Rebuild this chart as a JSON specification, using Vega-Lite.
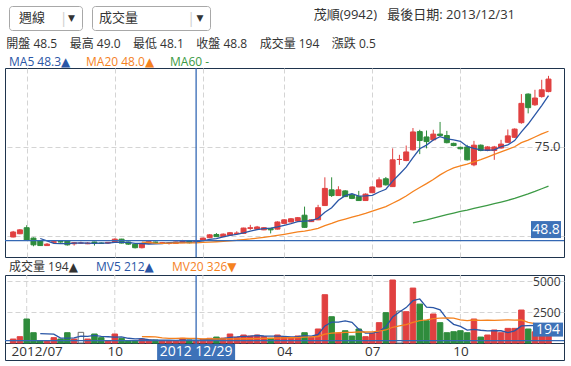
{
  "$schema": "https://vega.github.io/schema/vega-lite/v6.json",
  "padding": {"left": 3, "top": 5, "right": 0, "bottom": 0},
  "background": "white",
  "config": {
    "font": "Open Sans, DejaVu Sans, Noto Sans CJK TC, sans-serif",
    "view": {"stroke": null}
  },
  "datasets": {
    "weekly": [
      {"i":0,"d":"2012-06-23","o":49.8,"h":51.5,"l":49.7,"c":51.2,"v":320,"dir":"up"},
      {"i":1,"d":"2012-06-30","o":50.7,"h":52.0,"l":50.6,"c":51.8,"v":510,"dir":"up"},
      {"i":2,"d":"2012-07-07","o":52.4,"h":53.1,"l":48.8,"c":48.9,"v":1935,"dir":"down"},
      {"i":3,"d":"2012-07-14","o":49.5,"h":49.7,"l":47.2,"c":47.6,"v":830,"dir":"down"},
      {"i":4,"d":"2012-07-21","o":48.7,"h":48.9,"l":47.3,"c":47.4,"v":190,"dir":"down","MA5":49.38,"MV5":757},
      {"i":5,"d":"2012-07-28","o":47.4,"h":48.1,"l":47.3,"c":47.8,"v":190,"dir":"up","MA5":48.70,"MV5":731},
      {"i":6,"d":"2012-08-04","o":48.3,"h":48.7,"l":48.2,"c":48.5,"v":430,"dir":"up","MA5":48.04,"MV5":715},
      {"i":7,"d":"2012-08-11","o":48.5,"h":48.7,"l":48.2,"c":48.4,"v":320,"dir":"down","MA5":47.94,"MV5":392},
      {"i":8,"d":"2012-08-18","o":48.7,"h":48.8,"l":47.4,"c":47.6,"v":830,"dir":"down","MA5":47.94,"MV5":392},
      {"i":9,"d":"2012-08-25","o":47.9,"h":48.4,"l":47.4,"c":48.2,"v":320,"dir":"up","MA5":48.10,"MV5":418},
      {"i":10,"d":"2012-09-01","o":48.1,"h":48.5,"l":47.9,"c":48.1,"v":860,"dir":"flat","MA5":48.16,"MV5":552},
      {"i":11,"d":"2012-09-08","o":47.9,"h":48.4,"l":47.8,"c":48.1,"v":320,"dir":"up","MA5":48.08,"MV5":530},
      {"i":12,"d":"2012-09-15","o":48.4,"h":48.5,"l":47.4,"c":48.0,"v":725,"dir":"down","MA5":48.00,"MV5":611},
      {"i":13,"d":"2012-09-22","o":48.1,"h":48.3,"l":47.9,"c":48.0,"v":430,"dir":"down","MA5":48.08,"MV5":531},
      {"i":14,"d":"2012-09-29","o":48.1,"h":48.4,"l":47.9,"c":48.3,"v":190,"dir":"up","MA5":48.10,"MV5":505},
      {"i":15,"d":"2012-10-06","o":48.3,"h":49.4,"l":48.2,"c":49.2,"v":725,"dir":"up","MA5":48.32,"MV5":478},
      {"i":16,"d":"2012-10-13","o":49.2,"h":49.3,"l":48.0,"c":48.1,"v":375,"dir":"down","MA5":48.32,"MV5":489},
      {"i":17,"d":"2012-10-20","o":48.4,"h":48.5,"l":47.6,"c":47.8,"v":190,"dir":"down","MA5":48.28,"MV5":382},
      {"i":18,"d":"2012-10-27","o":47.8,"h":47.9,"l":46.6,"c":46.8,"v":190,"dir":"down","MA5":48.04,"MV5":334},
      {"i":19,"d":"2012-11-03","o":46.8,"h":48.2,"l":46.6,"c":48.0,"v":320,"dir":"up","MA5":47.98,"MA20":48.39,"MV5":360,"MV20":510},
      {"i":20,"d":"2012-11-10","o":48.0,"h":48.6,"l":47.9,"c":48.5,"v":240,"dir":"up","MA5":47.84,"MA20":48.26,"MV5":263,"MV20":506},
      {"i":21,"d":"2012-11-17","o":48.4,"h":48.5,"l":48.0,"c":48.2,"v":240,"dir":"down","MA5":47.86,"MA20":48.08,"MV5":236,"MV20":493},
      {"i":22,"d":"2012-11-24","o":48.1,"h":48.4,"l":47.9,"c":48.2,"v":190,"dir":"up","MA5":47.94,"MA20":48.04,"MV5":236,"MV20":405},
      {"i":23,"d":"2012-12-01","o":48.0,"h":48.3,"l":47.7,"c":48.1,"v":190,"dir":"up","MA5":48.20,"MA20":48.07,"MV5":236,"MV20":373},
      {"i":24,"d":"2012-12-08","o":48.0,"h":48.5,"l":47.9,"c":48.4,"v":190,"dir":"up","MA5":48.28,"MA20":48.12,"MV5":210,"MV20":373},
      {"i":25,"d":"2012-12-15","o":48.2,"h":49.0,"l":48.1,"c":48.8,"v":375,"dir":"up","MA5":48.34,"MA20":48.17,"MV5":237,"MV20":383},
      {"i":26,"d":"2012-12-22","o":48.7,"h":48.8,"l":48.0,"c":48.2,"v":240,"dir":"down","MA5":48.34,"MA20":48.15,"MV5":237,"MV20":373},
      {"i":27,"d":"2012-12-29","o":48.5,"h":49.0,"l":48.1,"c":48.8,"v":194,"dir":"up","MA5":48.46,"MA20":48.17,"MV5":238,"MV20":367},
      {"i":28,"d":"2013-01-05","o":48.9,"h":49.6,"l":48.8,"c":49.5,"v":300,"dir":"up","MA5":48.74,"MA20":48.27,"MV5":260,"MV20":340},
      {"i":29,"d":"2013-01-12","o":49.6,"h":50.6,"l":49.5,"c":50.4,"v":380,"dir":"up","MA5":49.14,"MA20":48.38,"MV5":298,"MV20":343},
      {"i":30,"d":"2013-01-19","o":50.5,"h":50.9,"l":49.8,"c":49.9,"v":480,"dir":"down","MA5":49.36,"MA20":48.47,"MV5":319,"MV20":324},
      {"i":31,"d":"2013-01-26","o":49.9,"h":50.8,"l":49.8,"c":50.6,"v":400,"dir":"up","MA5":49.84,"MA20":48.59,"MV5":351,"MV20":328},
      {"i":32,"d":"2013-02-02","o":50.3,"h":51.2,"l":50.2,"c":51.0,"v":725,"dir":"up","MA5":50.28,"MA20":48.74,"MV5":457,"MV20":328},
      {"i":33,"d":"2013-02-08","o":50.8,"h":51.4,"l":50.6,"c":50.9,"v":450,"dir":"up","MA5":50.56,"MA20":48.89,"MV5":487,"MV20":329},
      {"i":34,"d":"2013-02-23","o":50.8,"h":52.4,"l":50.7,"c":52.3,"v":645,"dir":"up","MA5":50.94,"MA20":49.09,"MV5":540,"MV20":352},
      {"i":35,"d":"2013-03-02","o":52.2,"h":53.2,"l":51.8,"c":52.4,"v":565,"dir":"up","MA5":51.44,"MA20":49.25,"MV5":557,"MV20":344},
      {"i":36,"d":"2013-03-09","o":52.0,"h":52.9,"l":51.9,"c":52.6,"v":645,"dir":"up","MA5":51.84,"MA20":49.47,"MV5":606,"MV20":357},
      {"i":37,"d":"2013-03-16","o":51.8,"h":52.6,"l":51.7,"c":52.4,"v":510,"dir":"up","MA5":52.12,"MA20":49.70,"MV5":563,"MV20":373},
      {"i":38,"d":"2013-03-23","o":52.2,"h":52.3,"l":50.8,"c":51.8,"v":380,"dir":"down","MA5":52.30,"MA20":49.95,"MV5":549,"MV20":383},
      {"i":39,"d":"2013-03-30","o":52.0,"h":54.2,"l":51.9,"c":54.0,"v":645,"dir":"up","MA5":52.64,"MA20":50.25,"MV5":549,"MV20":399},
      {"i":40,"d":"2013-04-06","o":53.6,"h":54.8,"l":53.5,"c":54.6,"v":500,"dir":"up","MA5":53.08,"MA20":50.56,"MV5":536,"MV20":412},
      {"i":41,"d":"2013-04-13","o":54.0,"h":55.1,"l":53.9,"c":54.9,"v":450,"dir":"up","MA5":53.54,"MA20":50.89,"MV5":497,"MV20":423},
      {"i":42,"d":"2013-04-20","o":54.3,"h":55.4,"l":54.2,"c":55.2,"v":565,"dir":"up","MA5":54.10,"MA20":51.24,"MV5":508,"MV20":441},
      {"i":43,"d":"2013-04-27","o":55.9,"h":58.3,"l":52.4,"c":52.5,"v":830,"dir":"down","MA5":54.24,"MA20":51.46,"MV5":598,"MV20":473},
      {"i":44,"d":"2013-05-04","o":54.1,"h":54.8,"l":54.0,"c":54.6,"v":460,"dir":"up","MA5":54.36,"MA20":51.77,"MV5":561,"MV20":487},
      {"i":45,"d":"2013-05-11","o":54.6,"h":58.8,"l":54.5,"c":58.0,"v":1130,"dir":"up","MA5":55.04,"MA20":52.23,"MV5":687,"MV20":525},
      {"i":46,"d":"2013-05-18","o":58.6,"h":66.5,"l":58.5,"c":63.4,"v":3895,"dir":"up","MA5":56.74,"MA20":52.99,"MV5":1376,"MV20":707},
      {"i":47,"d":"2013-05-25","o":63.0,"h":66.5,"l":61.0,"c":61.4,"v":2120,"dir":"down","MA5":57.98,"MA20":53.62,"MV5":1687,"MV20":804},
      {"i":48,"d":"2013-06-01","o":61.4,"h":64.0,"l":61.3,"c":63.0,"v":780,"dir":"up","MA5":60.08,"MA20":54.30,"MV5":1677,"MV20":828},
      {"i":49,"d":"2013-06-08","o":62.7,"h":62.9,"l":61.0,"c":61.1,"v":990,"dir":"down","MA5":61.38,"MA20":54.83,"MV5":1783,"MV20":858},
      {"i":50,"d":"2013-06-15","o":61.6,"h":61.9,"l":60.4,"c":60.6,"v":565,"dir":"down","MA5":61.90,"MA20":55.37,"MV5":1670,"MV20":863},
      {"i":51,"d":"2013-06-22","o":61.1,"h":62.7,"l":59.9,"c":60.0,"v":1130,"dir":"down","MA5":61.22,"MA20":55.84,"MV5":1117,"MV20":899},
      {"i":52,"d":"2013-06-29","o":60.0,"h":62.0,"l":59.9,"c":61.8,"v":510,"dir":"up","MA5":61.30,"MA20":56.38,"MV5":795,"MV20":888},
      {"i":53,"d":"2013-07-06","o":62.2,"h":64.0,"l":62.1,"c":63.8,"v":780,"dir":"up","MA5":61.46,"MA20":57.02,"MV5":795,"MV20":905},
      {"i":54,"d":"2013-07-13","o":63.8,"h":66.5,"l":63.7,"c":65.8,"v":1640,"dir":"up","MA5":62.40,"MA20":57.70,"MV5":925,"MV20":955},
      {"i":55,"d":"2013-07-20","o":66.1,"h":66.6,"l":64.2,"c":64.4,"v":2445,"dir":"down","MA5":63.16,"MA20":58.30,"MV5":1301,"MV20":1049},
      {"i":56,"d":"2013-07-27","o":63.9,"h":74.6,"l":63.8,"c":71.4,"v":5080,"dir":"up","MA5":65.44,"MA20":59.24,"MV5":2091,"MV20":1270},
      {"i":57,"d":"2013-08-03","o":71.5,"h":72.8,"l":70.0,"c":71.5,"v":2580,"dir":"flat","MA5":67.38,"MA20":60.19,"MV5":2505,"MV20":1374},
      {"i":58,"d":"2013-08-10","o":71.2,"h":75.4,"l":71.0,"c":73.6,"v":2525,"dir":"up","MA5":69.34,"MA20":61.28,"MV5":2854,"MV20":1481},
      {"i":59,"d":"2013-08-17","o":74.2,"h":80.3,"l":74.0,"c":79.2,"v":4430,"dir":"up","MA5":72.02,"MA20":62.54,"MA60":53.73,"MV5":3412,"MV20":1670},
      {"i":60,"d":"2013-08-24","o":79.3,"h":79.8,"l":73.0,"c":76.8,"v":3140,"dir":"down","MA5":74.50,"MA20":63.65,"MA60":54.15,"MV5":3551,"MV20":1802},
      {"i":61,"d":"2013-08-31","o":77.8,"h":79.6,"l":74.6,"c":76.5,"v":1800,"dir":"down","MA5":75.52,"MA20":64.73,"MA60":54.56,"MV5":2895,"MV20":1870},
      {"i":62,"d":"2013-09-07","o":77.0,"h":79.8,"l":76.8,"c":78.6,"v":2340,"dir":"up","MA5":76.94,"MA20":65.90,"MA60":55.06,"MV5":2847,"MV20":1959},
      {"i":63,"d":"2013-09-14","o":78.6,"h":82.0,"l":78.0,"c":78.2,"v":1640,"dir":"down","MA5":77.86,"MA20":67.19,"MA60":55.57,"MV5":2670,"MV20":1999},
      {"i":64,"d":"2013-09-21","o":78.2,"h":79.5,"l":76.0,"c":76.2,"v":830,"dir":"down","MA5":77.26,"MA20":68.27,"MA60":56.05,"MV5":1950,"MV20":2018},
      {"i":65,"d":"2013-09-28","o":76.0,"h":76.2,"l":75.2,"c":75.4,"v":910,"dir":"down","MA5":76.98,"MA20":69.14,"MA60":56.51,"MV5":1504,"MV20":2007},
      {"i":66,"d":"2013-10-05","o":74.9,"h":75.1,"l":74.3,"c":74.5,"v":990,"dir":"down","MA5":76.58,"MA20":69.69,"MA60":56.94,"MV5":1342,"MV20":1861},
      {"i":67,"d":"2013-10-12","o":75.0,"h":75.6,"l":71.2,"c":71.4,"v":830,"dir":"down","MA5":75.14,"MA20":70.19,"MA60":57.33,"MV5":1040,"MV20":1797},
      {"i":68,"d":"2013-10-19","o":70.0,"h":76.7,"l":69.6,"c":75.5,"v":1935,"dir":"up","MA5":74.60,"MA20":70.82,"MA60":57.79,"MV5":1099,"MV20":1855},
      {"i":69,"d":"2013-10-26","o":75.5,"h":75.7,"l":73.8,"c":74.0,"v":480,"dir":"down","MA5":74.16,"MA20":71.46,"MA60":58.22,"MV5":1029,"MV20":1829},
      {"i":70,"d":"2013-11-02","o":74.0,"h":75.2,"l":73.8,"c":75.0,"v":645,"dir":"up","MA5":74.08,"MA20":72.18,"MA60":58.67,"MV5":976,"MV20":1833},
      {"i":71,"d":"2013-11-09","o":74.0,"h":75.3,"l":71.4,"c":75.0,"v":1050,"dir":"up","MA5":74.18,"MA20":72.93,"MA60":59.12,"MV5":988,"MV20":1829},
      {"i":72,"d":"2013-11-16","o":74.7,"h":77.0,"l":74.5,"c":75.8,"v":830,"dir":"up","MA5":75.06,"MA20":73.63,"MA60":59.58,"MV5":988,"MV20":1845},
      {"i":73,"d":"2013-11-23","o":76.3,"h":79.9,"l":76.1,"c":78.1,"v":1180,"dir":"up","MA5":75.58,"MA20":74.35,"MA60":60.08,"MV5":837,"MV20":1865},
      {"i":74,"d":"2013-11-30","o":77.7,"h":80.2,"l":77.5,"c":80.0,"v":1180,"dir":"up","MA5":76.78,"MA20":75.06,"MA60":60.61,"MV5":977,"MV20":1842},
      {"i":75,"d":"2013-12-07","o":81.8,"h":89.8,"l":81.5,"c":87.2,"v":2660,"dir":"up","MA5":79.22,"MA20":76.20,"MA60":61.25,"MV5":1380,"MV20":1853},
      {"i":76,"d":"2013-12-14","o":89.8,"h":90.0,"l":84.4,"c":86.0,"v":1130,"dir":"down","MA5":81.42,"MA20":76.93,"MA60":61.88,"MV5":1396,"MV20":1655},
      {"i":77,"d":"2013-12-21","o":86.8,"h":91.0,"l":86.5,"c":88.7,"v":900,"dir":"up","MA5":84.00,"MA20":77.79,"MA60":62.56,"MV5":1410,"MV20":1571},
      {"i":78,"d":"2013-12-28","o":89.1,"h":93.8,"l":88.8,"c":91.0,"v":1000,"dir":"up","MA5":86.58,"MA20":78.66,"MA60":63.30,"MV5":1374,"MV20":1495},
      {"i":79,"d":"2013-12-31","o":90.5,"h":94.9,"l":90.3,"c":94.0,"v":800,"dir":"up","MA5":89.38,"MA20":79.40,"MA60":64.06,"MV5":1298,"MV20":1314}
    ],
    "cross": [{"i":27,"date":"2012 12/29","close":48.8,"vol":194,"closeText":"48.8","volText":"194"}],
    "months": [{"i":2,"m":"2012/07"},{"i":15,"m":"10"},{"i":28,"m":"01"},{"i":40,"m":"04"},{"i":53,"m":"07"},{"i":66,"m":"10"}]
  },
  "spacing": 6,
  "resolve": {"scale": {"x": "independent", "y": "independent", "color": "independent", "fill": "independent", "stroke": "independent"}},
  "vconcat": [
    {
      "spacing": 2,
      "hconcat": [
        {
          "width": 1, "height": 24,
          "data": {"values": [{"t": ""}]},
          "mark": {"type": "text"},
          "encoding": {"text": {"field": "t"}}
        },
        {
          "spacing": 8,
          "hconcat": [
            {
              "width": 73, "height": 24,
              "view": {"stroke": "#a8a8a8", "cornerRadius": 3, "strokeWidth": 1},
              "data": {"values": [{"t": "週線", "arrow": "▼", "sep": "|"}]},
              "layer": [
                {"mark": {"type": "text", "align": "left", "dx": -26.5, "fontSize": 13, "color": "#333"}, "encoding": {"text": {"field": "t"}}},
                {"mark": {"type": "text", "dx": 18, "fontSize": 15, "color": "#cfcfcf"}, "encoding": {"text": {"field": "sep"}}},
                {"mark": {"type": "text", "dx": 26, "fontSize": 9, "color": "#333"}, "encoding": {"text": {"field": "arrow"}}}
              ]
            },
            {
              "width": 118, "height": 24,
              "view": {"stroke": "#a8a8a8", "cornerRadius": 3, "strokeWidth": 1},
              "data": {"values": [{"t": "成交量", "arrow": "▼", "sep": "|"}]},
              "layer": [
                {"mark": {"type": "text", "align": "left", "dx": -52, "fontSize": 13, "color": "#333"}, "encoding": {"text": {"field": "t"}}},
                {"mark": {"type": "text", "dx": 40, "fontSize": 15, "color": "#cfcfcf"}, "encoding": {"text": {"field": "sep"}}},
                {"mark": {"type": "text", "dx": 49, "fontSize": 9, "color": "#333"}, "encoding": {"text": {"field": "arrow"}}}
              ]
            }
          ]
        },
        {
          "width": 302, "height": 24,
          "data": {"values": [{"t": "茂順(9942)\u00a0\u00a0\u00a0最後日期: 2013/12/31"}]},
          "mark": {"type": "text", "align": "right", "dx": 151, "dy": -3, "fontSize": 13, "color": "#333"},
          "encoding": {"text": {"field": "t"}}
        }
      ]
    },
    {
      "spacing": 1,
      "resolve": {"scale": {"x": "independent", "y": "independent", "color": "independent", "fill": "independent", "stroke": "independent"}},
      "vconcat": [
        {
          "width": 559, "height": 189,
          "view": {"stroke": "#1f344d", "strokeWidth": 1},
          "title": {"text": "開盤 48.5\u00a0\u00a0\u00a0\u00a0最高 49.0\u00a0\u00a0\u00a0\u00a0最低 48.1\u00a0\u00a0\u00a0\u00a0收盤 48.8\u00a0\u00a0\u00a0\u00a0成交量 194\u00a0\u00a0\u00a0\u00a0漲跌 0.5", "anchor": "start", "fontSize": 12, "fontWeight": "normal", "color": "#333", "offset": 5, "dx": 2},
          "layer": [
            {
              "data": {"name": "weekly"},
              "mark": {"type": "rule", "strokeWidth": 1},
              "encoding": {
                "x": {"field": "i", "type": "quantitative", "scale": {"domain": [-0.464, 80.55], "nice": false, "zero": false},
                      "axis": {"values": [2, 15, 28, 40, 53, 66], "grid": true, "gridColor": "#d4d4d4", "gridDash": [5, 3], "labels": false, "ticks": false, "domain": false, "title": null}},
                "y": {"field": "l", "type": "quantitative", "scale": {"domain": [44.2, 97.1], "nice": false, "zero": false},
                      "axis": {"orient": "right", "values": [50, 75], "grid": true, "gridColor": "#d4d4d4", "gridDash": [5, 3], "ticks": false, "domain": false, "labelAlign": "right", "labelPadding": -4, "labelFontSize": 13, "labelColor": "#3a3a3a", "labelExpr": "datum.value == 75 ? '75.0' : ''", "title": null}},
                "y2": {"field": "h"},
                "stroke": {"field": "dir", "type": "nominal", "scale": {"domain": ["up", "down", "flat"], "range": ["#e04040", "#2f8c3c", "#e04040"]}, "legend": null}
              }
            },
            {
              "data": {"name": "weekly"},
              "mark": {"type": "bar", "width": 5, "strokeWidth": 1},
              "encoding": {
                "x": {"field": "i", "type": "quantitative",
                      "axis": {"values": [2, 15, 28, 40, 53, 66], "grid": true, "gridColor": "#d4d4d4", "gridDash": [5, 3], "labels": false, "ticks": false, "domain": false, "title": null}},
                "y": {"field": "o", "type": "quantitative",
                      "axis": {"orient": "right", "values": [50, 75], "grid": true, "gridColor": "#d4d4d4", "gridDash": [5, 3], "ticks": false, "domain": false, "labelAlign": "right", "labelPadding": -4, "labelFontSize": 13, "labelColor": "#3a3a3a", "labelExpr": "datum.value == 75 ? '75.0' : ''", "title": null}},
                "y2": {"field": "c"},
                "fill": {"field": "dir", "type": "nominal", "scale": {"domain": ["up", "down", "flat"], "range": ["#e04040", "#2f8c3c", "#e04040"]}, "legend": null},
                "stroke": {"field": "dir", "type": "nominal", "legend": null}
              }
            },
            {
              "data": {"name": "weekly"},
              "transform": [{"fold": ["MA5", "MA20", "MA60"], "as": ["key", "val"]}, {"filter": "isValid(datum.val)"}],
              "mark": {"type": "line", "strokeWidth": 1.3},
              "encoding": {
                "x": {"field": "i", "type": "quantitative",
                      "axis": {"values": [2, 15, 28, 40, 53, 66], "grid": true, "gridColor": "#d4d4d4", "gridDash": [5, 3], "labels": false, "ticks": false, "domain": false, "title": null}},
                "y": {"field": "val", "type": "quantitative",
                      "axis": {"orient": "right", "values": [50, 75], "grid": true, "gridColor": "#d4d4d4", "gridDash": [5, 3], "ticks": false, "domain": false, "labelAlign": "right", "labelPadding": -4, "labelFontSize": 13, "labelColor": "#3a3a3a", "labelExpr": "datum.value == 75 ? '75.0' : ''", "title": null}},
                "color": {"field": "key", "type": "nominal", "scale": {"domain": ["MA5", "MA20", "MA60"], "range": ["#2a56a6", "#f5821f", "#3c9a45"]},
                  "legend": {"orient": "top", "direction": "horizontal", "title": null, "offset": 0, "padding": 0, "symbolSize": 0.0001, "symbolStrokeWidth": 0.0001, "symbolOpacity": 0, "labelOffset": -8, "columnPadding": 11, "labelFontSize": 12,
                    "labelExpr": "datum.value == 'MA5' ? 'MA5 48.3▲' : datum.value == 'MA20' ? 'MA20 48.0▲' : 'MA60 -'",
                    "encode": {"labels": {"update": {"fill": {"signal": "datum.value == 'MA5' ? '#2a56a6' : datum.value == 'MA20' ? '#f5821f' : '#3c9a45'"}}}}}}
              }
            },
            {
              "data": {"name": "cross"},
              "mark": {"type": "rule", "color": "#3468b4", "strokeWidth": 1.3},
              "encoding": {"y": {"field": "close", "type": "quantitative",
                      "axis": {"orient": "right", "values": [50, 75], "grid": true, "gridColor": "#d4d4d4", "gridDash": [5, 3], "ticks": false, "domain": false, "labelAlign": "right", "labelPadding": -4, "labelFontSize": 13, "labelColor": "#3a3a3a", "labelExpr": "datum.value == 75 ? '75.0' : ''", "title": null}}}
            },
            {
              "data": {"name": "cross"},
              "mark": {"type": "rule", "color": "#3468b4", "strokeWidth": 1.3},
              "encoding": {"x": {"field": "i", "type": "quantitative",
                      "axis": {"values": [2, 15, 28, 40, 53, 66], "grid": true, "gridColor": "#d4d4d4", "gridDash": [5, 3], "labels": false, "ticks": false, "domain": false, "title": null}}}
            },
            {
              "data": {"name": "cross"},
              "mark": {"type": "point", "shape": "M-1,-0.567H1V0.567H-1Z", "size": 900, "filled": true, "color": "#3d72b8", "opacity": 1, "strokeWidth": 0, "xOffset": -18, "yOffset": -11},
              "encoding": {"x": {"value": "width"}, "y": {"field": "close", "type": "quantitative",
                      "axis": {"orient": "right", "values": [50, 75], "grid": true, "gridColor": "#d4d4d4", "gridDash": [5, 3], "ticks": false, "domain": false, "labelAlign": "right", "labelPadding": -4, "labelFontSize": 13, "labelColor": "#3a3a3a", "labelExpr": "datum.value == 75 ? '75.0' : ''", "title": null}}}
            },
            {
              "data": {"name": "cross"},
              "mark": {"type": "text", "color": "white", "fontSize": 14, "xOffset": -18, "yOffset": -11},
              "encoding": {"x": {"value": "width"}, "y": {"field": "close", "type": "quantitative",
                      "axis": {"orient": "right", "values": [50, 75], "grid": true, "gridColor": "#d4d4d4", "gridDash": [5, 3], "ticks": false, "domain": false, "labelAlign": "right", "labelPadding": -4, "labelFontSize": 13, "labelColor": "#3a3a3a", "labelExpr": "datum.value == 75 ? '75.0' : ''", "title": null}}, "text": {"field": "closeText"}}
            }
          ]
        },
        {
          "width": 559, "height": 85,
          "view": {"stroke": "#1f344d", "strokeWidth": 1},
          "layer": [
            {
              "data": {"name": "months"},
              "mark": {"type": "rule", "color": "#d4d4d4", "strokeDash": [5, 3]},
              "encoding": {
                "x": {"field": "i", "type": "quantitative", "scale": {"domain": [-0.464, 80.55], "nice": false, "zero": false},
                      "axis": {"orient": "bottom", "offset": -17, "values": [2, 15, 28, 40, 53, 66], "grid": false, "ticks": false, "domain": true, "domainColor": "#1f344d", "labelFontSize": 13.5, "labelColor": "#333", "labelPadding": 1, "labelFlush": false, "labelOffset": {"condition": {"test": "datum.value == 2", "value": 10}, "value": 0}, "title": null,
                        "labelExpr": "datum.value == 2 ? '2012/07' : datum.value == 15 ? '10' : datum.value == 28 ? '' : datum.value == 40 ? '04' : datum.value == 53 ? '07' : '10'"}},
                "y": {"datum": 0, "type": "quantitative", "scale": {"domain": [-1371, 5484], "nice": false, "zero": false},
                      "axis": {"orient": "right", "values": [2500, 5000], "format": "d", "grid": true, "gridColor": "#d4d4d4", "gridDash": [5, 3], "ticks": false, "domain": false, "labelAlign": "right", "labelPadding": -4, "labelFontSize": 12, "labelColor": "#3a3a3a", "title": null}},
                "y2": {"datum": 5484}
              }
            },
            {
              "data": {"name": "weekly"},
              "mark": {"type": "bar", "width": 5.5, "strokeWidth": 1},
              "encoding": {
                "x": {"field": "i", "type": "quantitative",
                      "axis": {"orient": "bottom", "offset": -17, "values": [2, 15, 28, 40, 53, 66], "grid": false, "ticks": false, "domain": true, "domainColor": "#1f344d", "labelFontSize": 13.5, "labelColor": "#333", "labelPadding": 1, "labelFlush": false, "labelOffset": {"condition": {"test": "datum.value == 2", "value": 10}, "value": 0}, "title": null,
                        "labelExpr": "datum.value == 2 ? '2012/07' : datum.value == 15 ? '10' : datum.value == 28 ? '' : datum.value == 40 ? '04' : datum.value == 53 ? '07' : '10'"}},
                "y": {"field": "v", "type": "quantitative",
                      "axis": {"orient": "right", "values": [2500, 5000], "format": "d", "grid": true, "gridColor": "#d4d4d4", "gridDash": [5, 3], "ticks": false, "domain": false, "labelAlign": "right", "labelPadding": -4, "labelFontSize": 12, "labelColor": "#3a3a3a", "title": null}},
                "y2": {"datum": 0},
                "fill": {"field": "dir", "type": "nominal", "scale": {"domain": ["up", "down", "flat"], "range": ["#e04040", "#2f8c3c", "#ffffff"]}, "legend": null},
                "stroke": {"field": "dir", "type": "nominal", "scale": {"domain": ["up", "down", "flat"], "range": ["#e04040", "#2f8c3c", "#6a6a6a"]}, "legend": null}
              }
            },
            {
              "data": {"name": "weekly"},
              "transform": [{"fold": ["MV5", "MV20"], "as": ["key", "val"]}, {"filter": "isValid(datum.val)"}],
              "mark": {"type": "line", "strokeWidth": 1.3},
              "encoding": {
                "x": {"field": "i", "type": "quantitative",
                      "axis": {"orient": "bottom", "offset": -17, "values": [2, 15, 28, 40, 53, 66], "grid": false, "ticks": false, "domain": true, "domainColor": "#1f344d", "labelFontSize": 13.5, "labelColor": "#333", "labelPadding": 1, "labelFlush": false, "labelOffset": {"condition": {"test": "datum.value == 2", "value": 10}, "value": 0}, "title": null,
                        "labelExpr": "datum.value == 2 ? '2012/07' : datum.value == 15 ? '10' : datum.value == 28 ? '' : datum.value == 40 ? '04' : datum.value == 53 ? '07' : '10'"}},
                "y": {"field": "val", "type": "quantitative",
                      "axis": {"orient": "right", "values": [2500, 5000], "format": "d", "grid": true, "gridColor": "#d4d4d4", "gridDash": [5, 3], "ticks": false, "domain": false, "labelAlign": "right", "labelPadding": -4, "labelFontSize": 12, "labelColor": "#3a3a3a", "title": null}},
                "color": {"field": "key", "type": "nominal", "scale": {"domain": ["VOL", "MV5", "MV20"], "range": ["#333333", "#2a56a6", "#f5821f"]},
                  "legend": {"orient": "top", "direction": "horizontal", "title": null, "offset": 2, "padding": 0, "symbolSize": 0.0001, "symbolStrokeWidth": 0.0001, "symbolOpacity": 0, "labelOffset": -8, "columnPadding": 14, "labelFontSize": 12,
                    "labelExpr": "datum.value == 'VOL' ? '成交量 194▲' : datum.value == 'MV5' ? 'MV5 212▲' : 'MV20 326▼'",
                    "encode": {"labels": {"update": {"fill": {"signal": "datum.value == 'VOL' ? '#333333' : datum.value == 'MV5' ? '#2a56a6' : '#f5821f'"}}}}}}
              }
            },
            {
              "data": {"name": "cross"},
              "mark": {"type": "rule", "color": "#3468b4", "strokeWidth": 1.3},
              "encoding": {"y": {"field": "vol", "type": "quantitative",
                      "axis": {"orient": "right", "values": [2500, 5000], "format": "d", "grid": true, "gridColor": "#d4d4d4", "gridDash": [5, 3], "ticks": false, "domain": false, "labelAlign": "right", "labelPadding": -4, "labelFontSize": 12, "labelColor": "#3a3a3a", "title": null}}}
            },
            {
              "data": {"name": "cross"},
              "mark": {"type": "rule", "color": "#3468b4", "strokeWidth": 1.3},
              "encoding": {"x": {"field": "i", "type": "quantitative",
                      "axis": {"orient": "bottom", "offset": -17, "values": [2, 15, 28, 40, 53, 66], "grid": false, "ticks": false, "domain": true, "domainColor": "#1f344d", "labelFontSize": 13.5, "labelColor": "#333", "labelPadding": 1, "labelFlush": false, "labelOffset": {"condition": {"test": "datum.value == 2", "value": 10}, "value": 0}, "title": null,
                        "labelExpr": "datum.value == 2 ? '2012/07' : datum.value == 15 ? '10' : datum.value == 28 ? '' : datum.value == 40 ? '04' : datum.value == 53 ? '07' : '10'"}}}
            },
            {
              "data": {"name": "cross"},
              "mark": {"type": "point", "shape": "M-1,-0.467H1V0.467H-1Z", "size": 900, "filled": true, "color": "#3d72b8", "opacity": 1, "strokeWidth": 0, "xOffset": -16, "yOffset": -11},
              "encoding": {"x": {"value": "width"}, "y": {"field": "vol", "type": "quantitative",
                      "axis": {"orient": "right", "values": [2500, 5000], "format": "d", "grid": true, "gridColor": "#d4d4d4", "gridDash": [5, 3], "ticks": false, "domain": false, "labelAlign": "right", "labelPadding": -4, "labelFontSize": 12, "labelColor": "#3a3a3a", "title": null}}}
            },
            {
              "data": {"name": "cross"},
              "mark": {"type": "text", "color": "white", "fontSize": 14, "xOffset": -16, "yOffset": -11},
              "encoding": {"x": {"value": "width"}, "y": {"field": "vol", "type": "quantitative",
                      "axis": {"orient": "right", "values": [2500, 5000], "format": "d", "grid": true, "gridColor": "#d4d4d4", "gridDash": [5, 3], "ticks": false, "domain": false, "labelAlign": "right", "labelPadding": -4, "labelFontSize": 12, "labelColor": "#3a3a3a", "title": null}}, "text": {"field": "volText"}}
            },
            {
              "data": {"name": "cross"},
              "mark": {"type": "point", "shape": "M-1,-0.205H1V0.205H-1Z", "size": 6084, "filled": true, "color": "#3d72b8", "opacity": 1, "strokeWidth": 0, "yOffset": -8},
              "encoding": {"x": {"field": "i", "type": "quantitative",
                      "axis": {"orient": "bottom", "offset": -17, "values": [2, 15, 28, 40, 53, 66], "grid": false, "ticks": false, "domain": true, "domainColor": "#1f344d", "labelFontSize": 13.5, "labelColor": "#333", "labelPadding": 1, "labelFlush": false, "labelOffset": {"condition": {"test": "datum.value == 2", "value": 10}, "value": 0}, "title": null,
                        "labelExpr": "datum.value == 2 ? '2012/07' : datum.value == 15 ? '10' : datum.value == 28 ? '' : datum.value == 40 ? '04' : datum.value == 53 ? '07' : '10'"}}, "y": {"value": "height"}}
            },
            {
              "data": {"name": "cross"},
              "mark": {"type": "text", "color": "white", "fontSize": 14, "yOffset": -8},
              "encoding": {"x": {"field": "i", "type": "quantitative",
                      "axis": {"orient": "bottom", "offset": -17, "values": [2, 15, 28, 40, 53, 66], "grid": false, "ticks": false, "domain": true, "domainColor": "#1f344d", "labelFontSize": 13.5, "labelColor": "#333", "labelPadding": 1, "labelFlush": false, "labelOffset": {"condition": {"test": "datum.value == 2", "value": 10}, "value": 0}, "title": null,
                        "labelExpr": "datum.value == 2 ? '2012/07' : datum.value == 15 ? '10' : datum.value == 28 ? '' : datum.value == 40 ? '04' : datum.value == 53 ? '07' : '10'"}}, "y": {"value": "height"}, "text": {"field": "date"}}
            }
          ]
        }
      ]
    }
  ]
}
